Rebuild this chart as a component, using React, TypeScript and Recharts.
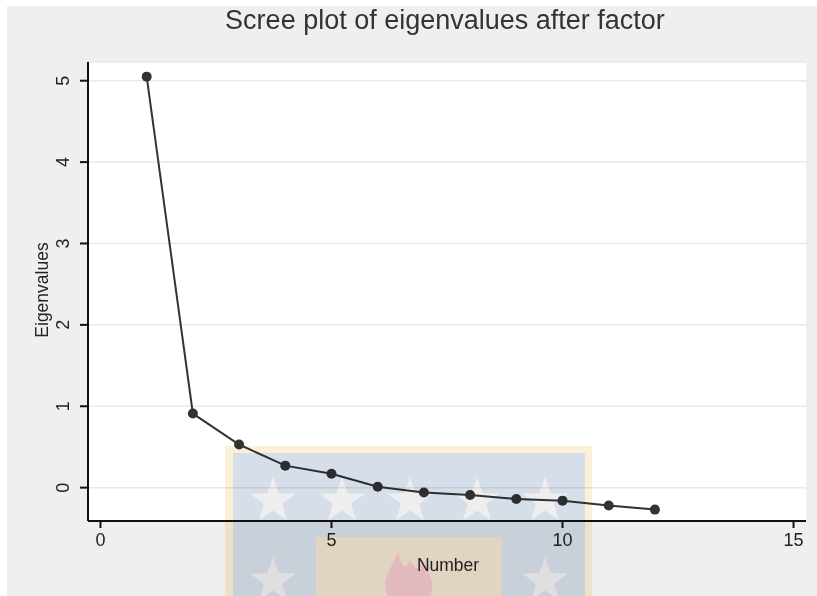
import { LineChart, Line, XAxis, YAxis, CartesianGrid } from "recharts"

const factorNumbers = [1, 2, 3, 4, 5, 6, 7, 8, 9, 10, 11, 12]
const eigenvalues = [5.05, 0.91, 0.53, 0.27, 0.17, 0.01, -0.06, -0.09, -0.14, -0.16, -0.22, -0.27]
const xTicks = [0, 5, 10, 15]
const yTicks = [0, 1, 2, 3, 4, 5]

const data = factorNumbers.map((n, i) => ({ number: n, eigen: eigenvalues[i] }))

const FONT = "'Liberation Sans', Arial, Helvetica, sans-serif"

function YTick(props: any) {
  const { x, y, payload } = props
  return (
    <text
      transform={`translate(${x - 15},${y}) rotate(-90)`}
      textAnchor="middle"
      dy="0.36em"
      fontSize={18}
      fill="#222"
      fontFamily={FONT}
    >
      {payload.value}
    </text>
  )
}

function XTick(props: any) {
  const { x, y, payload } = props
  return (
    <text x={x} y={y} dy="0.9em" textAnchor="middle" fontSize={18} fill="#222" fontFamily={FONT}>
      {payload.value}
    </text>
  )
}

function star(cx: number, cy: number, r: number) {
  const pts: string[] = []
  for (let i = 0; i < 10; i++) {
    const rad = i % 2 === 0 ? r : r * 0.4
    const a = -Math.PI / 2 + (i * Math.PI) / 5
    pts.push(`${cx + rad * Math.cos(a)},${cy + rad * Math.sin(a)}`)
  }
  return pts.join(" ")
}

// background logo watermark
function Watermark() {
  const row1 = [273, 342, 410, 477, 545]
  const row2 = [273, 545]
  return (
    <svg
      width={817}
      height={596}
      style={{ position: "absolute", left: 0, top: 0, mixBlendMode: "multiply", pointerEvents: "none" }}
    >
      <rect x={225} y={446} width={367} height={150} fill="#fdf0d8" />
      <rect x={233} y={453} width={352} height={143} fill="#d6dee9" />
      {row1.map((cx) => (
        <polygon key={"a" + cx} points={star(cx, 501, 24)} fill="#eeeeee" />
      ))}
      {row2.map((cx) => (
        <polygon key={"b" + cx} points={star(cx, 581, 24)} fill="#eeeeee" />
      ))}
      <rect x={316} y={537} width={186} height={59} fill="#f1e3cd" />
      <path
        d="M388,596 C380,580 392,568 398,552 C402,566 404,572 410,560 C414,568 420,574 422,560 C430,574 436,586 430,596 Z"
        fill="#f3c6cd"
      />
    </svg>
  )
}

export default function App() {
  return (
    <div style={{ position: "absolute", left: 0, top: 0, width: 817, height: 596, background: "#fff" }}>
      <div style={{ position: "absolute", left: 7, top: 6, width: 810, height: 590, background: "#efefef" }} />
      <div style={{ position: "absolute", left: 0, top: 0 }}>
        <LineChart
          width={817}
          height={596}
          data={data}
          margin={{ top: 62, right: 11, left: 28, bottom: 0 }}
        >
          <CartesianGrid vertical={false} stroke="#e9e9e9" strokeWidth={1.5} fill="#ffffff" />
          <XAxis
            dataKey="number"
            type="number"
            domain={[-0.27, 15.27]}
            ticks={xTicks}
            allowDataOverflow
            height={75}
            tickSize={7}
            tick={<XTick />}
            axisLine={{ stroke: "#111", strokeWidth: 2 }}
            tickLine={{ stroke: "#111", strokeWidth: 2 }}
          />
          <YAxis
            type="number"
            domain={[-0.41, 5.23]}
            ticks={yTicks}
            allowDataOverflow
            width={60}
            tickSize={8}
            tick={<YTick />}
            axisLine={{ stroke: "#111", strokeWidth: 2 }}
            tickLine={{ stroke: "#111", strokeWidth: 2 }}
          />
          <Line
            dataKey="eigen"
            type="linear"
            stroke="#333"
            strokeWidth={2}
            dot={{ r: 5, fill: "#333", stroke: "none" }}
            isAnimationActive={false}
          />
        </LineChart>
      </div>
      <Watermark />
      <svg width={817} height={596} style={{ position: "absolute", left: 0, top: 0, pointerEvents: "none" }}>
        <text x={445} y={29} textAnchor="middle" fontSize={27} fill="#333" fontFamily={FONT}>
          Scree plot of eigenvalues after factor
        </text>
        <text x={448} y={571} textAnchor="middle" fontSize={17.5} fill="#222" fontFamily={FONT}>
          Number
        </text>
        <text
          transform="translate(48,290) rotate(-90)"
          textAnchor="middle"
          fontSize={17.5}
          fill="#222"
          fontFamily={FONT}
        >
          Eigenvalues
        </text>
      </svg>
    </div>
  )
}
